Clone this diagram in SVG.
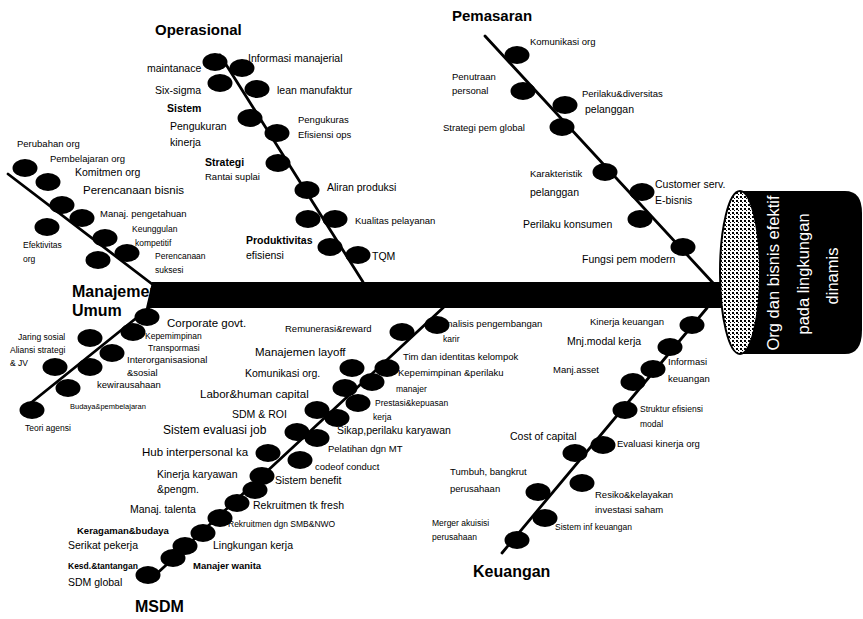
<svg xmlns="http://www.w3.org/2000/svg" width="863" height="619" viewBox="0 0 863 619">
<style>
.bg{fill:#fff}
.bone{stroke:#000;stroke-width:2.8;fill:none;stroke-linecap:round}
.spine{fill:#000}
.b{fill:#000}
text{font-family:"Liberation Sans",Arial,sans-serif;fill:#000}
.h{font-weight:bold;font-size:15px}
.bd{font-weight:bold}
.s7{font-size:7.5px}
.s8{font-size:8.5px}
.s9{font-size:9.5px}
.s10{font-size:10.5px}
.s11{font-size:11.5px}
.s12{font-size:12px}
.w{fill:#fff;font-size:16.5px}
</style>
<defs>
<pattern id="dots" width="4" height="4" patternUnits="userSpaceOnUse">
<rect width="4" height="4" fill="#fff"/>
<rect width="2" height="2" fill="#000"/>
<rect x="2" y="2" width="1" height="1" fill="#000"/>
</pattern>
</defs>
<rect class="bg" width="863" height="619"/>

<g id="connectors">
<line class="bone" x1="220" y1="55" x2="363" y2="282"/>
<line class="bone" x1="485" y1="36" x2="714" y2="284"/>
<line class="bone" x1="8" y1="174" x2="152" y2="284"/>
<line class="bone" x1="150" y1="307" x2="22" y2="410"/>
<line class="bone" x1="445" y1="306" x2="150" y2="580"/>
<line class="bone" x1="707" y1="308" x2="502" y2="553"/>
</g>

<g id="operasional">
<text class="h" x="155" y="35">Operasional</text>
<text class="s10" x="147" y="72">maintanace</text>
<text class="s10" x="248" y="62">Informasi manajerial</text>
<text class="s10" x="155" y="94">Six-sigma</text>
<text class="s10" x="277" y="94">lean manufaktur</text>
<text class="s10 bd" x="167" y="112">Sistem</text>
<text class="s10" x="170" y="130">Pengukuran</text>
<text class="s10" x="170" y="146">kinerja</text>
<text class="s9" x="298" y="123">Pengukuras</text>
<text class="s9" x="298" y="138">Efisiensi ops</text>
<text class="s10 bd" x="205" y="166">Strategi</text>
<text class="s9" x="205" y="180">Rantai suplai</text>
<text class="s10" x="327" y="191">Aliran produksi</text>
<text class="s9" x="355" y="224">Kualitas pelayanan</text>
<text class="s10 bd" x="246" y="244">Produktivitas</text>
<text class="s10" x="246" y="259">efisiensi</text>
<text class="s10" x="372" y="260">TQM</text>
<ellipse class="b" cx="215" cy="62" rx="12.5" ry="9"/>
<ellipse class="b" cx="242" cy="68" rx="12.5" ry="9"/>
<ellipse class="b" cx="220" cy="83" rx="12.5" ry="9"/>
<ellipse class="b" cx="257" cy="89" rx="12.5" ry="9"/>
<ellipse class="b" cx="250" cy="118" rx="12.5" ry="9"/>
<ellipse class="b" cx="277" cy="133" rx="12.5" ry="9"/>
<ellipse class="b" cx="278" cy="163" rx="12.5" ry="9"/>
<ellipse class="b" cx="307" cy="190" rx="12.5" ry="9"/>
<ellipse class="b" cx="308" cy="219" rx="12.5" ry="9"/>
<ellipse class="b" cx="335" cy="219" rx="12.5" ry="9"/>
<ellipse class="b" cx="330" cy="247" rx="12.5" ry="9"/>
<ellipse class="b" cx="358" cy="255" rx="12.5" ry="9"/>
</g>

<g id="pemasaran">
<text class="h" x="452" y="21">Pemasaran</text>
<text class="s9" x="530" y="45">Komunikasi org</text>
<text class="s9" x="452" y="80">Penutraan</text>
<text class="s9" x="452" y="94">personal</text>
<text class="s9" x="582" y="97">Perilaku&amp;diversitas</text>
<text class="s10" x="585" y="113">pelanggan</text>
<text class="s9" x="443" y="131">Strategi pem global</text>
<text class="s9" x="530" y="177">Karakteristik</text>
<text class="s10" x="530" y="196">pelanggan</text>
<text class="s10" x="655" y="188">Customer serv.</text>
<text class="s10" x="655" y="204">E-bisnis</text>
<text class="s10" x="523" y="228">Perilaku konsumen</text>
<text class="s10" x="582" y="263">Fungsi pem modern</text>
<ellipse class="b" cx="517" cy="55" rx="12.5" ry="9"/>
<ellipse class="b" cx="523" cy="91" rx="12.5" ry="9"/>
<ellipse class="b" cx="565" cy="105" rx="12.5" ry="9"/>
<ellipse class="b" cx="562" cy="127" rx="12.5" ry="9"/>
<ellipse class="b" cx="605" cy="172" rx="12.5" ry="9"/>
<ellipse class="b" cx="642" cy="192" rx="12.5" ry="9"/>
<ellipse class="b" cx="640" cy="219" rx="12.5" ry="9"/>
<ellipse class="b" cx="683" cy="247" rx="12.5" ry="9"/>
</g>

<g id="manajemen-umum">
<text class="s9" x="17" y="147">Perubahan org</text>
<text class="s9" x="50" y="162">Pembelajaran org</text>
<text class="s10" x="75" y="176">Komitmen org</text>
<text class="s11" x="83" y="194">Perencanaan bisnis</text>
<text class="s9" x="100" y="217">Manaj. pengetahuan</text>
<text class="s8" x="132" y="232">Keunggulan</text>
<text class="s8" x="135" y="246">kompetitif</text>
<text class="s8" x="155" y="259">Perencanaan</text>
<text class="s8" x="155" y="273">suksesi</text>
<text class="s8" x="23" y="248">Efektivitas</text>
<text class="s8" x="23" y="262">org</text>
<text class="h" x="72" y="297" style="font-size:16px">Manajemen</text>
<text class="h" x="72" y="316" style="font-size:16px">Umum</text>
<text class="s11" x="167" y="327">Corporate govt.</text>
<text class="s8" x="145" y="339">Kepemimpinan</text>
<text class="s8" x="148" y="351">Transpormasi</text>
<text class="s9" x="127" y="363">Interorganisasional</text>
<text class="s9" x="127" y="376">&amp;sosial</text>
<text class="s9" x="97" y="388">kewirausahaan</text>
<text class="s7" x="70" y="409">Budaya&amp;pembelajaran</text>
<text class="s8" x="25" y="431">Teori agensi</text>
<text class="s8" x="18" y="340">Jaring sosial</text>
<text class="s8" x="10" y="353">Aliansi strategi</text>
<text class="s8" x="10" y="366">&amp; JV</text>
<ellipse class="b" cx="25" cy="168" rx="12.5" ry="9"/>
<ellipse class="b" cx="48" cy="182" rx="12.5" ry="9"/>
<ellipse class="b" cx="62" cy="205" rx="12.5" ry="9"/>
<ellipse class="b" cx="82" cy="218" rx="12.5" ry="9"/>
<ellipse class="b" cx="47" cy="227" rx="12.5" ry="9"/>
<ellipse class="b" cx="105" cy="238" rx="12.5" ry="9"/>
<ellipse class="b" cx="127" cy="253" rx="12.5" ry="9"/>
<ellipse class="b" cx="98" cy="260" rx="12.5" ry="9"/>
<ellipse class="b" cx="147" cy="317" rx="12.5" ry="9"/>
<ellipse class="b" cx="133" cy="332" rx="12.5" ry="9"/>
<ellipse class="b" cx="90" cy="338" rx="12.5" ry="9"/>
<ellipse class="b" cx="112" cy="353" rx="12.5" ry="9"/>
<ellipse class="b" cx="55" cy="367" rx="12.5" ry="9"/>
<ellipse class="b" cx="90" cy="367" rx="12.5" ry="9"/>
<ellipse class="b" cx="68" cy="388" rx="12.5" ry="9"/>
<ellipse class="b" cx="32" cy="410" rx="12.5" ry="9"/>
</g>

<g id="msdm">
<text class="s9" x="285" y="332">Remunerasi&amp;reward</text>
<text class="s11" x="255" y="356">Manajemen layoff</text>
<text class="s10" x="245" y="377">Komunikasi org.</text>
<text class="s11" x="200" y="398">Labor&amp;human capital</text>
<text class="s10" x="232" y="418">SDM &amp; ROI</text>
<text class="s12" x="163" y="434">Sistem evaluasi job</text>
<text class="s11" x="142" y="456">Hub interpersonal ka</text>
<text class="s9" x="441" y="327">Analisis pengembangan</text>
<text class="s8" x="443" y="342">karir</text>
<text class="s9" x="403" y="360">Tim dan identitas kelompok</text>
<text class="s9" x="398" y="376">Kepemimpinan &amp;perilaku</text>
<text class="s8" x="396" y="392">manajer</text>
<text class="s8" x="375" y="406">Prestasi&amp;kepuasan</text>
<text class="s8" x="373" y="420">kerja</text>
<text class="s10" x="337" y="434">Sikap,perilaku karyawan</text>
<text class="s9" x="328" y="452">Pelatihan dgn MT</text>
<text class="s9" x="315" y="470">codeof conduct</text>
<text class="s10" x="157" y="478">Kinerja karyawan</text>
<text class="s10" x="157" y="493">&amp;pengm.</text>
<text class="s10" x="275" y="484">Sistem benefit</text>
<text class="s10" x="130" y="513">Manaj. talenta</text>
<text class="s10" x="253" y="509">Rekruitmen tk fresh</text>
<text class="s8" x="228" y="527">Rekruitmen dgn SMB&amp;NWO</text>
<text class="s9 bd" x="77" y="534">Keragaman&amp;budaya</text>
<text class="s10" x="68" y="549">Serikat pekerja</text>
<text class="s10" x="213" y="549">Lingkungan kerja</text>
<text class="s8 bd" x="68" y="569">Kesd.&amp;tantangan</text>
<text class="s10" x="68" y="586">SDM global</text>
<text class="s9 bd" x="193" y="569">Manajer wanita</text>
<text class="h" x="135" y="612" style="font-size:16px">MSDM</text>
<ellipse class="b" cx="437" cy="325" rx="12.5" ry="9"/>
<ellipse class="b" cx="402" cy="332" rx="12.5" ry="9"/>
<ellipse class="b" cx="352" cy="368" rx="12.5" ry="9"/>
<ellipse class="b" cx="387" cy="368" rx="12.5" ry="9"/>
<ellipse class="b" cx="372" cy="382" rx="12.5" ry="9"/>
<ellipse class="b" cx="345" cy="388" rx="12.5" ry="9"/>
<ellipse class="b" cx="358" cy="403" rx="12.5" ry="9"/>
<ellipse class="b" cx="317" cy="410" rx="12.5" ry="9"/>
<ellipse class="b" cx="337" cy="418" rx="12.5" ry="9"/>
<ellipse class="b" cx="297" cy="432" rx="12.5" ry="9"/>
<ellipse class="b" cx="317" cy="438" rx="12.5" ry="9"/>
<ellipse class="b" cx="268" cy="453" rx="12.5" ry="9"/>
<ellipse class="b" cx="300" cy="460" rx="12.5" ry="9"/>
<ellipse class="b" cx="262" cy="476" rx="12.5" ry="9"/>
<ellipse class="b" cx="255" cy="490" rx="12.5" ry="9"/>
<ellipse class="b" cx="237" cy="503" rx="12.5" ry="9"/>
<ellipse class="b" cx="220" cy="518" rx="12.5" ry="9"/>
<ellipse class="b" cx="203" cy="533" rx="12.5" ry="9"/>
<ellipse class="b" cx="185" cy="546" rx="12.5" ry="9"/>
<ellipse class="b" cx="173" cy="558" rx="12.5" ry="9"/>
<ellipse class="b" cx="148" cy="575" rx="12.5" ry="9"/>
</g>

<g id="keuangan">
<text class="s9" x="590" y="325">Kinerja keuangan</text>
<text class="s10" x="567" y="345">Mnj.modal kerja</text>
<text class="s9" x="668" y="365">Informasi</text>
<text class="s9" x="668" y="382">keuangan</text>
<text class="s9" x="553" y="373">Manj.asset</text>
<text class="s8" x="640" y="412">Struktur efisiensi</text>
<text class="s8" x="640" y="427">modal</text>
<text class="s9" x="617" y="447">Evaluasi kinerja org</text>
<text class="s10" x="510" y="440">Cost of capital</text>
<text class="s9" x="450" y="475">Tumbuh, bangkrut</text>
<text class="s9" x="450" y="492">perusahaan</text>
<text class="s9" x="595" y="498">Resiko&amp;kelayakan</text>
<text class="s9" x="595" y="513">investasi saham</text>
<text class="s8" x="555" y="530">Sistem inf keuangan</text>
<text class="s8" x="432" y="526">Merger akuisisi</text>
<text class="s8" x="432" y="540">perusahaan</text>
<text class="h" x="473" y="577" style="font-size:16px">Keuangan</text>
<ellipse class="b" cx="692" cy="325" rx="12.5" ry="9"/>
<ellipse class="b" cx="670" cy="347" rx="12.5" ry="9"/>
<ellipse class="b" cx="653" cy="369" rx="12.5" ry="9"/>
<ellipse class="b" cx="633" cy="382" rx="12.5" ry="9"/>
<ellipse class="b" cx="625" cy="410" rx="12.5" ry="9"/>
<ellipse class="b" cx="603" cy="445" rx="12.5" ry="9"/>
<ellipse class="b" cx="575" cy="453" rx="12.5" ry="9"/>
<ellipse class="b" cx="538" cy="492" rx="12.5" ry="9"/>
<ellipse class="b" cx="582" cy="483" rx="12.5" ry="9"/>
<ellipse class="b" cx="545" cy="518" rx="12.5" ry="9"/>
<ellipse class="b" cx="517" cy="540" rx="12.5" ry="9"/>
</g>

<g id="spine">
<polygon class="spine" points="152,282 722,282 722,308 146,308"/>
</g>

<g id="effect">
<path d="M740,191 H845 Q862,191 862,213 V330 Q862,354 845,354 H740 Z" fill="#000"/>
<ellipse cx="740" cy="272.5" rx="20" ry="81.5" fill="url(#dots)" stroke="#000" stroke-width="2"/>
<text class="w" transform="translate(779,273) rotate(-90)" text-anchor="middle">Org dan bisnis efektif</text>
<text class="w" transform="translate(809,274) rotate(-90)" text-anchor="middle">pada lingkungan</text>
<text class="w" transform="translate(838,276) rotate(-90)" text-anchor="middle">dinamis</text>
</g>
</svg>
